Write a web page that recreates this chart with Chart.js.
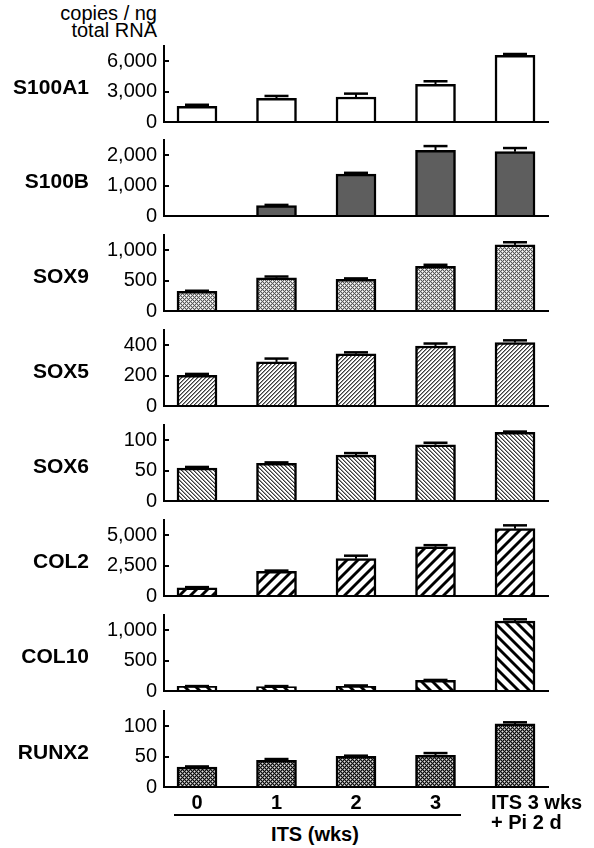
<!DOCTYPE html>
<html>
<head>
<meta charset="utf-8">
<script src="https://cdn.jsdelivr.net/npm/chart.js@4"></script>
<style>
  body { margin: 0; background: #fff; }
  #wrap { position: relative; width: 594px; height: 848px; font-family: "Liberation Sans", Arial, sans-serif; color: #000; }
  #wrap canvas { position: absolute; left: 0; }
  .gene { position: absolute; right: 505px; font-weight: bold; font-size: 21px; line-height: 20px; white-space: nowrap; }
  #unit { position: absolute; right: 437px; top: 5px; font-size: 20px; line-height: 17px; text-align: right; white-space: nowrap; }
  #itsline { position: absolute; left: 174px; top: 814px; width: 287px; height: 2px; background: #000; }
  #itstitle { position: absolute; left: 215px; width: 200px; top: 824px; text-align: center; font-weight: bold; font-size: 20px; line-height: 20px; }
</style>
</head>
<body>
<div id="wrap">
  <div id="unit">copies / ng<br>total RNA</div>
  <div id="itsline"></div>
  <div id="itstitle">ITS (wks)</div>
</div>
<script>
// groups on the x axis
const categories = ['0', '1', '2', '3', ['ITS 3 wks', '+ Pi 2 d']];
const genes = ['S100A1', 'S100B', 'SOX9', 'SOX5', 'SOX6', 'COL2', 'COL10', 'RUNX2'];

// copies / ng total RNA, mean and error
const s100a1 = [1550, 2340, 2470, 3720, 6580];
const s100a1Err = [150, 230, 330, 300, 130];
const s100b = [0, 340, 1380, 2160, 2115];
const s100bErr = [0, 25, 40, 140, 120];
const sox9 = [323, 547, 520, 733, 1088];
const sox9Err = [10, 20, 16, 27, 43];
const sox5 = [202, 290, 344, 395, 417];
const sox5Err = [9, 22, 9, 16, 15];
const sox6 = [54, 62, 75.5, 92.5, 113];
const sox6Err = [2, 1.5, 3.3, 3.3, 1.2];
const col2 = [680, 2035, 3070, 4045, 5535];
const col2Err = [50, 55, 245, 135, 275];
const col10 = [76, 71, 76, 174, 1152];
const col10Err = [5, 10, 15, 8, 27];
const runx2 = [32.8, 44, 50.5, 52, 103.7];
const runx2Err = [1, 2, 1, 3.8, 2.7];

// y axis ticks and top of each axis
const yTicks = [[0, 3000, 6000], [0, 1000, 2000], [0, 500, 1000], [0, 200, 400],
                [0, 50, 100], [0, 2500, 5000], [0, 500, 1000], [0, 50, 100]];
const yMax = [7500, 2500, 1250, 500, 125, 6250, 1250, 125];

const values = [s100a1, s100b, sox9, sox5, sox6, col2, col10, runx2];
const errors = [s100a1Err, s100bErr, sox9Err, sox5Err, sox6Err, col2Err, col10Err, runx2Err];

// fill patterns
function makePattern(size, shade) {
  const c = document.createElement('canvas');
  c.width = size; c.height = size;
  const g = c.getContext('2d');
  const img = g.createImageData(size, size);
  for (let y = 0; y < size; y++) {
    for (let x = 0; x < size; x++) {
      const v = shade(x, y);
      const k = (y * size + x) * 4;
      img.data[k] = img.data[k + 1] = img.data[k + 2] = v;
      img.data[k + 3] = 255;
    }
  }
  g.putImageData(img, 0, 0);
  return g.createPattern(c, 'repeat');
}
const mod = (a, n) => ((a % n) + n) % n;
function hatch(dark, spot, mid) {
  return makePattern(4, (x, y) => {
    const a = mod(x + y, 4), b = mod(x - y, 4);
    if (a === 0 || b === 0) return dark;
    if (a === 2 && b === 2) return spot;
    return mid;
  });
}
function fineLines(dir) {
  return makePattern(4, (x, y) => {
    const a = mod(dir > 0 ? x + y : x - y, 4);
    return a === 0 ? 60 : (a === 1 ? 150 : 255);
  });
}
function thickLines(dir) {
  return makePattern(11, (x, y) => {
    const a = mod(dir > 0 ? x + y : x - y, 11);
    if (a >= 1 && a <= 3) return 0;
    if (a === 0 || a === 4) return 120;
    return 255;
  });
}
const fills = [
  '#ffffff',
  '#5e5e5e',
  hatch(90, 255, 200),
  fineLines(1),
  fineLines(-1),
  thickLines(1),
  thickLines(-1),
  hatch(15, 225, 120)
];

const errorBars = {
  id: 'errorBars',
  afterDatasetsDraw(chart, args, opts) {
    const meta = chart.getDatasetMeta(0);
    const ds = chart.data.datasets[0];
    const y = chart.scales.y;
    const ctx = chart.ctx;
    ctx.save();
    ctx.strokeStyle = '#000';
    meta.data.forEach((bar, i) => {
      const err = opts.errors[i];
      if (!err) return;
      const top = y.getPixelForValue(ds.data[i].y + err);
      ctx.lineWidth = 2;
      ctx.beginPath(); ctx.moveTo(bar.x, bar.y); ctx.lineTo(bar.x, top); ctx.stroke();
      ctx.lineWidth = 2.5;
      ctx.beginPath(); ctx.moveTo(bar.x - 12, top); ctx.lineTo(bar.x + 12, top); ctx.stroke();
    });
    ctx.restore();
  }
};

Chart.defaults.font.family = '"Liberation Sans", Arial, sans-serif';
Chart.defaults.color = '#000';

const zeros = [122, 216, 311, 406, 501, 596, 691, 787];
const wrap = document.getElementById('wrap');
const xMin = -0.415, xMax = 4.415;

genes.forEach((name, i) => {
  const last = i === genes.length - 1;
  const cv = document.createElement('canvas');
  const h = last ? 149 : 100;
  cv.width = 594; cv.height = h;
  cv.style.top = (zeros[i] - 88) + 'px';
  wrap.appendChild(cv);

  const lab = document.createElement('div');
  lab.className = 'gene';
  lab.textContent = name;
  lab.style.top = (zeros[i] - 45) + 'px';
  wrap.appendChild(lab);

  const noPad = s => { s.paddingLeft = 0; s.paddingRight = 0; s.paddingTop = 0; s.paddingBottom = 0; };
  const scales = {
    x: {
      type: 'linear', axis: 'x', min: xMin, max: xMax, offset: false, position: { y: 0 },
      grid: { display: false, drawTicks: false },
      border: { display: true, color: '#000', width: 2 },
      ticks: { display: last, autoSkip: false, maxRotation: 0, padding: 6,
               font: { size: 20, weight: 'bold', lineHeight: 1 },
               callback: v => categories[v] },
      afterBuildTicks: s => { s.ticks = [0, 1, 2, 3].map(v => ({ value: v })); },
      afterFit: noPad
    },
    y: {
      min: 0, max: yMax[i],
      grid: { display: true, drawOnChartArea: false, drawTicks: true, tickLength: -5,
              color: '#000', tickColor: '#000', lineWidth: 2, tickWidth: 2 },
      border: { display: true, color: '#000', width: 2 },
      ticks: { padding: 12, font: { size: 20 }, callback: v => v.toLocaleString('en-US') },
      afterBuildTicks: s => { s.ticks = yTicks[i].map(v => ({ value: v })); },
      afterFit: s => { s.width = 164; noPad(s); }
    }
  };
  if (last) {
    scales.x2 = {
      type: 'linear', axis: 'x', min: xMin, max: xMax, offset: false, position: { y: 0 },
      grid: { display: false, drawTicks: false },
      border: { display: false },
      ticks: { display: true, autoSkip: false, maxRotation: 0, align: 'start', labelOffset: -24, padding: 6,
               font: { size: 20, weight: 'bold', lineHeight: 1 },
               callback: v => categories[v] },
      afterBuildTicks: s => { s.ticks = [{ value: 4 }]; },
      afterFit: noPad
    };
  }

  new Chart(cv, {
    type: 'bar',
    data: {
      datasets: [{
        label: name,
        data: values[i].map((v, k) => ({ x: k, y: v })),
        backgroundColor: fills[i],
        borderColor: '#000',
        borderWidth: 2.5,
        borderSkipped: 'start',
        barThickness: 40
      }]
    },
    options: {
      responsive: false,
      animation: false,
      events: [],
      layout: { padding: { left: 0, right: 46, top: 12, bottom: h - 88 } },
      plugins: { legend: { display: false }, tooltip: { enabled: false }, errorBars: { errors: errors[i] } },
      scales: scales
    },
    plugins: [errorBars]
  });
});
</script>
</body>
</html>
